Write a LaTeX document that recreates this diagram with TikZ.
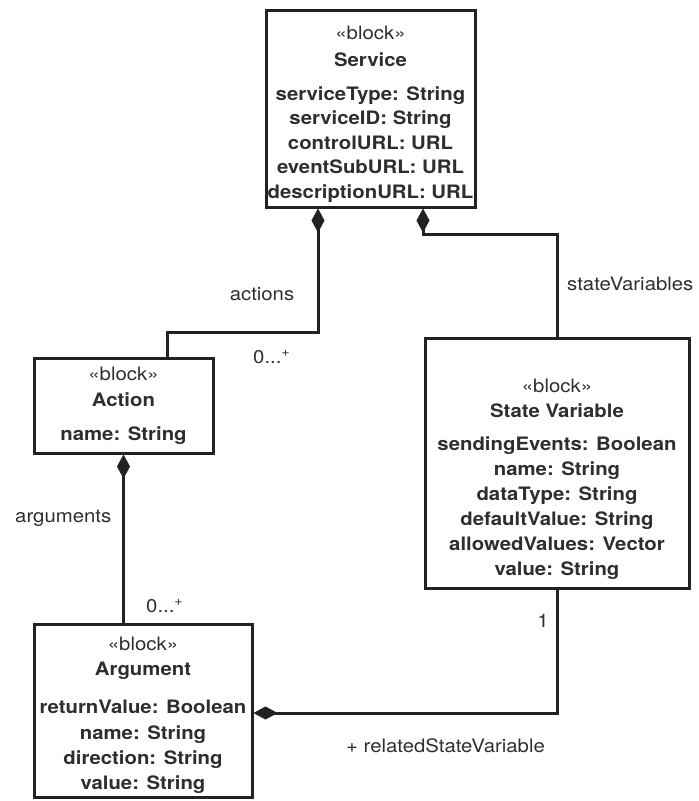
\documentclass[tikz,border=0pt]{standalone}
\usepackage{fontspec}
\setmainfont{TeX Gyre Heros}[FakeStretch=1.1]
\usetikzlibrary{arrows.meta}
\definecolor{linec}{HTML}{222222}
\definecolor{textc}{HTML}{2E2E2E}
\tikzset{
  box/.style={draw=linec, line width=3pt, inner sep=0pt, rectangle},
  txt/.style={anchor=base, inner sep=0pt, text=textc, font=\fontsize{18.5}{22}\selectfont},
  bftxt/.style={txt, font=\fontsize{18.5}{22}\selectfont\bfseries},
  conn/.style={draw=linec, line width=3pt},
  comp/.style={conn, {Diamond[length=24pt,width=13pt,line width=0.6pt]}-}
}
\begin{document}
\begin{tikzpicture}[x=1pt,y=-1pt]
\useasboundingbox (0,0) rectangle (699,801);

% boxes
\node[box, minimum width=209pt, minimum height=197pt] (service) at (370.5,108.5) {};
\node[box, minimum width=179pt, minimum height=95pt] (action) at (123.5,405.5) {};
\node[box, minimum width=218pt, minimum height=173pt] (argument) at (143,710.5) {};
\node[box, minimum width=264pt, minimum height=250pt] (statevar) at (557,463) {};

% Service text
\node[txt] (s-st) at (370.5,39) {«block»};
\node[bftxt] (s-nm) at (370.5,66) {Service};
\foreach \t/\yy [count=\i] in {serviceType: String/100, serviceID: String/124.5, controlURL: URL/149, eventSubURL: URL/173.5, descriptionURL: URL/198}
  \node[bftxt] (s-a\i) at (370.5,\yy) {\t};

% Action text
\node[txt] (a-st) at (123.5,380) {«block»};
\node[bftxt] (a-nm) at (123.5,406.5) {Action};
\node[bftxt] (a-a1) at (123.5,440) {name: String};

% Argument text
\node[txt] (g-st) at (143,650) {«block»};
\node[bftxt] (g-nm) at (143,675) {Argument};
\foreach \t/\yy [count=\i] in {returnValue: Boolean/713, name: String/739, direction: String/764, value: String/789}
  \node[bftxt] (g-a\i) at (143,\yy) {\t};

% State Variable text
\node[txt] (v-st) at (557,392) {«block»};
\node[bftxt] (v-nm) at (557,417) {State Variable};
\foreach \t/\yy [count=\i] in {sendingEvents: Boolean/450, name: String/475, dataType: String/500, defaultValue: String/525, allowedValues: Vector/550, value: String/575}
  \node[bftxt] (v-a\i) at (557,\yy) {\t};

% connectors
\draw[comp] ([xshift=-52.5pt]service.south) -- ++(0,124) -| ([xshift=43.5pt]action.north);
\draw[comp] ([xshift=52.5pt]service.south) -- ++(0,26) -| (statevar.north);
\draw[comp] (action.south) -- (action.south |- argument.north);
\draw[comp] ([yshift=-2.5pt]argument.east) -| (statevar.south);

% labels
\node[txt] (l-act) at (262,300) {actions};
\node[txt, anchor=base west] (m-act) at (253,363) {0...\textsuperscript{+}};
\node[txt, anchor=base west] (l-args) at (15,522) {arguments};
\node[txt, anchor=base west] (m-args) at (146,612) {0...\textsuperscript{+}};
\node[txt, anchor=base west] (l-sv) at (567,290) {stateVariables};
\node[txt] (m-sv) at (543,627) {1};
\node[txt, anchor=base west] (l-rel) at (346,752) {+ relatedStateVariable};
\end{tikzpicture}
\end{document}
